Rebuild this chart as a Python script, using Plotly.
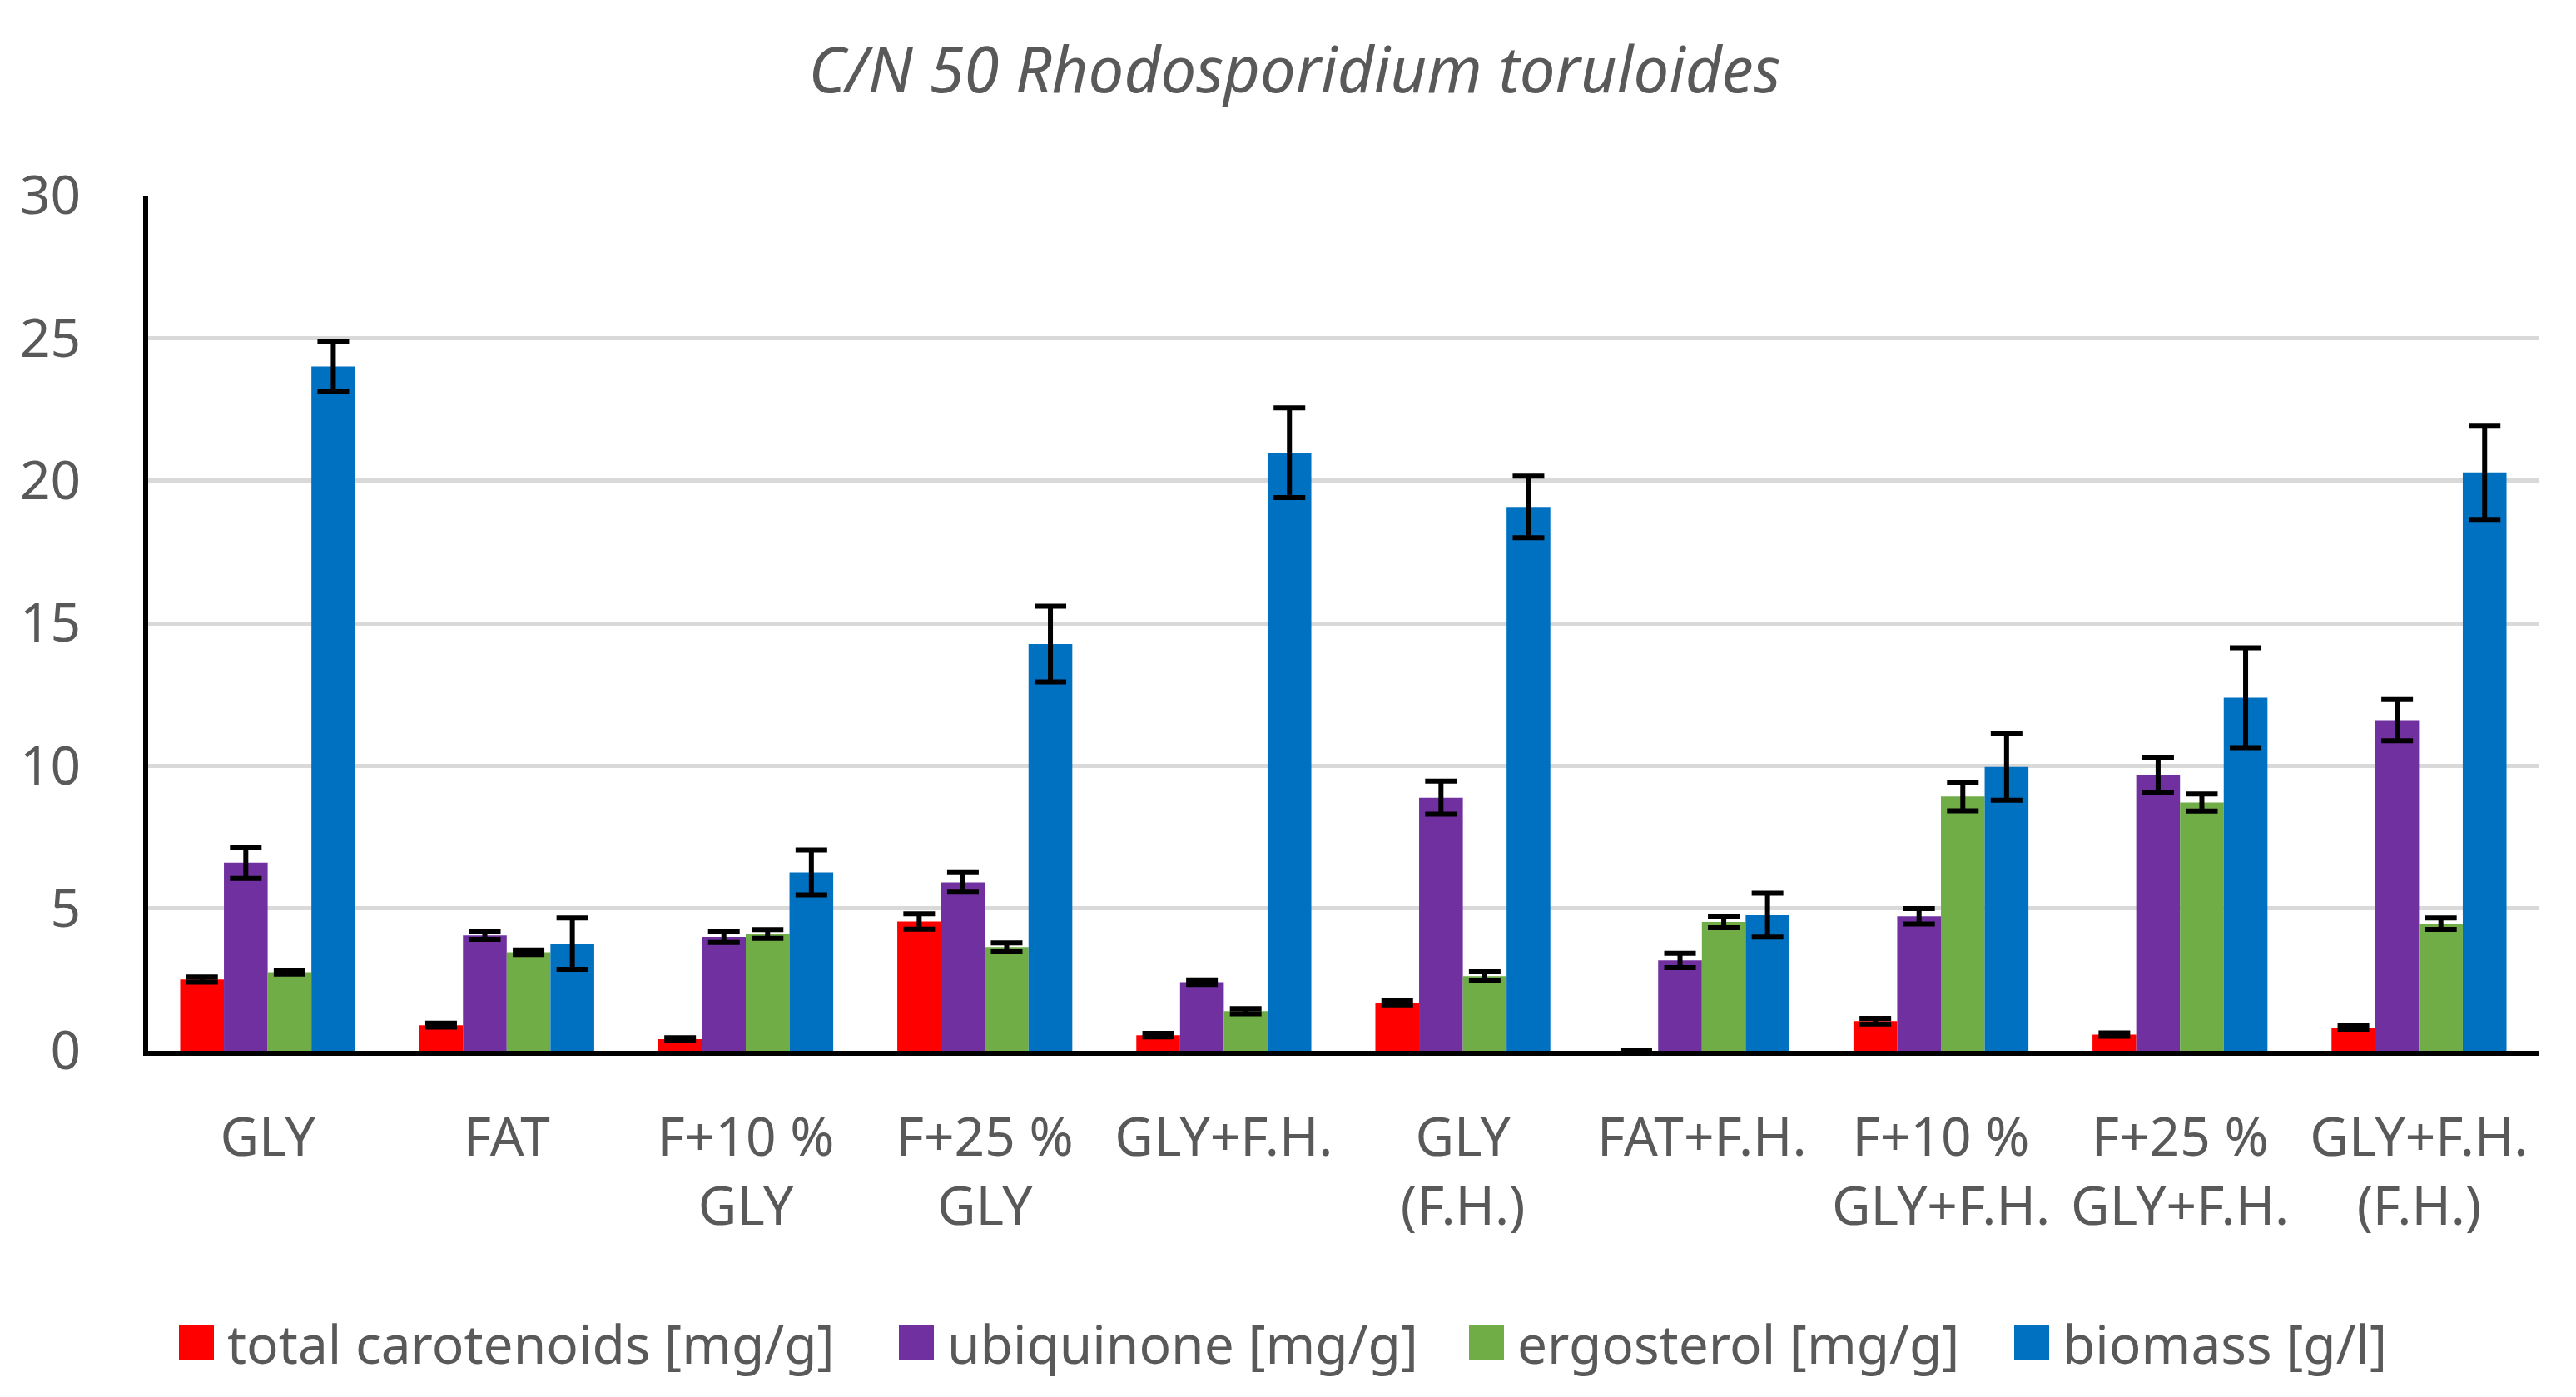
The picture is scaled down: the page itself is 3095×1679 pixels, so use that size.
import plotly.graph_objects as go

categories = ["GLY", "FAT", "F+10 %<br>GLY", "F+25 %<br>GLY", "GLY+F.H.",
              "GLY<br>(F.H.)", "FAT+F.H.", "F+10 %<br>GLY+F.H.",
              "F+25 %<br>GLY+F.H.", "GLY+F.H.<br>(F.H.)"]

series_names = ["total carotenoids [mg/g]", "ubiquinone [mg/g]",
                "ergosterol [mg/g]", "biomass [g/l]"]

carotenoids = [2.5, 0.9, 0.41, 4.54, 0.55, 1.68, 0, 1.04, 0.57, 0.82]
carotenoids_err = [0.09, 0.07, 0.05, 0.27, 0.06, 0.07, None, 0.1, 0.06, 0.06]

ubiquinone = [6.6, 4.05, 4.0, 5.91, 2.41, 8.88, 3.17, 4.72, 9.67, 11.6]
ubiquinone_err = [0.55, 0.14, 0.2, 0.34, 0.08, 0.58, 0.25, 0.27, 0.6, 0.72]

ergosterol = [2.76, 3.46, 4.1, 3.64, 1.39, 2.62, 4.52, 8.92, 8.71, 4.46]
ergosterol_err = [0.07, 0.08, 0.15, 0.15, 0.09, 0.15, 0.2, 0.5, 0.3, 0.2]

biomass = [24.0, 3.76, 6.26, 14.27, 20.98, 19.08, 4.76, 9.96, 12.39, 20.29]
biomass_err = [0.88, 0.9, 0.79, 1.33, 1.57, 1.08, 0.77, 1.17, 1.75, 1.65]

y_ticks = [0, 5, 10, 15, 20, 25, 30]

colors = ["#FF0000", "#7030A0", "#70AD47", "#0070C0"]
values = [carotenoids, ubiquinone, ergosterol, biomass]
errors = [carotenoids_err, ubiquinone_err, ergosterol_err, biomass_err]

W, H = 3095, 1679
ML, MR, MT, MB = 170, 53, 227, 424
PW, PH = W - ML - MR, H - MT - MB
FONT = "Noto Sans"
TXT = "#595959"

fig = go.Figure()
for name, vals, errs, col in zip(series_names, values, errors, colors):
    fig.add_trace(go.Bar(
        x=categories, y=vals, name=name, marker_color=col,
        marker_line_width=0, showlegend=False,
        error_y=dict(type="data", array=errs, visible=True,
                     color="black", thickness=6, width=19),
    ))


def px2x(px):
    return (px - ML) / PW


def px2y(py):
    return (H - MB - py) / PH


# legend drawn manually (large square swatches as in reference)
legend_left = [207, 1072, 1757, 2412]
shapes = []
annotations = []
for name, col, lx in zip(series_names, colors, legend_left):
    shapes.append(dict(type="rect", xref="paper", yref="paper",
                       x0=px2x(lx), x1=px2x(lx + 42),
                       y0=px2y(1627), y1=px2y(1585),
                       fillcolor=col, line_width=0))
    annotations.append(dict(text=name, xref="paper", yref="paper",
                            x=px2x(lx + 56), y=px2y(1606),
                            xanchor="left", yanchor="middle",
                            showarrow=False,
                            font=dict(family=FONT, size=64, color=TXT)))

fig.update_layout(
    width=W, height=H,
    margin=dict(l=ML, r=MR, t=MT, b=MB),
    paper_bgcolor="white", plot_bgcolor="white",
    barmode="group", bargap=0.268, bargroupgap=0,
    title=dict(text="C/N 50 Rhodosporidium toruloides",
               x=0.5, xanchor="center", y=1 - 76 / H, yanchor="middle",
               font=dict(family=FONT, size=76, color=TXT, style="italic")),
    font=dict(family=FONT, size=64, color=TXT),
    shapes=shapes, annotations=annotations,
)
fig.update_xaxes(showline=True, linecolor="black", linewidth=6,
                 showgrid=False, ticks="", ticklabelstandoff=43,
                 tickfont=dict(family=FONT, size=64, color=TXT))
fig.update_yaxes(range=[0, 30], tickvals=y_ticks, showline=True,
                 linecolor="black", linewidth=6, showgrid=True,
                 gridcolor="#D9D9D9", gridwidth=5, zeroline=False,
                 ticks="", ticklabelstandoff=62,
                 tickfont=dict(family=FONT, size=64, color=TXT))

fig.write_html("out.html")
